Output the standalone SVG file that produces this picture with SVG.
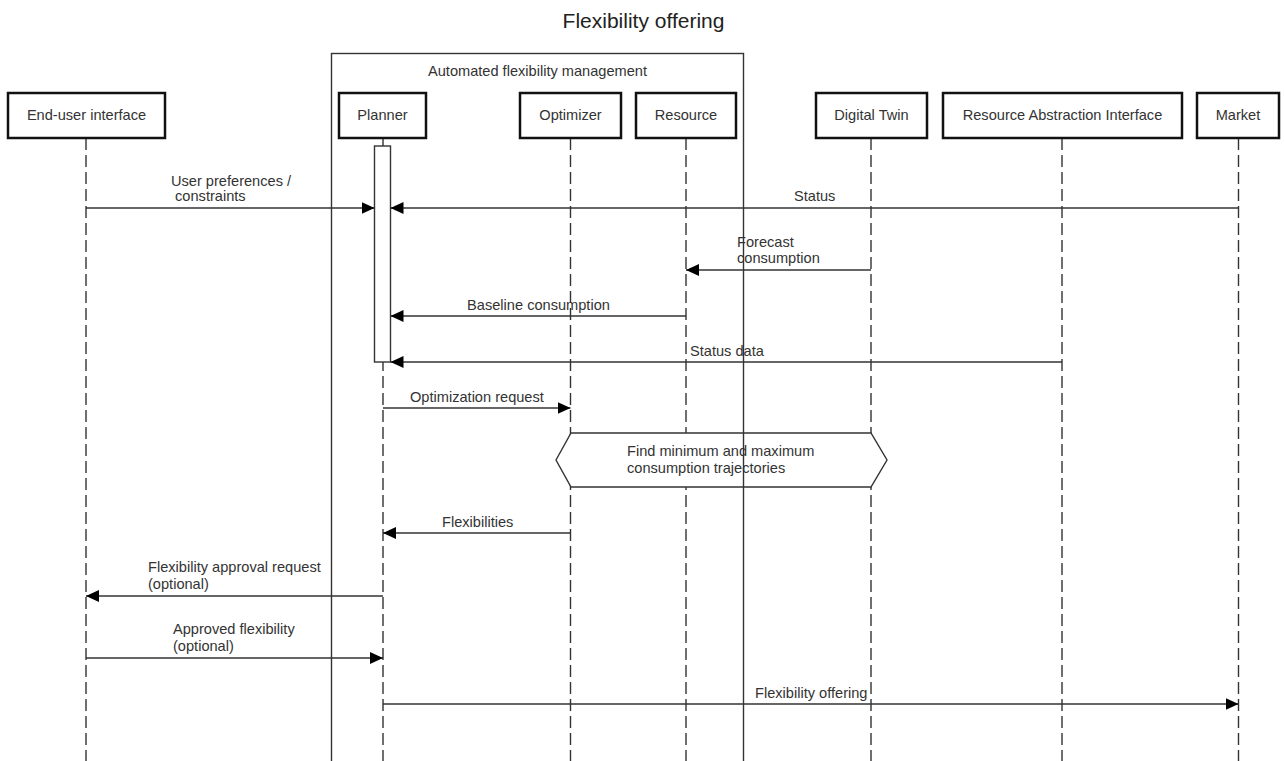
<svg xmlns="http://www.w3.org/2000/svg" width="1284" height="761" viewBox="0 0 1284 761">
  <style>
    text { font-family: "Liberation Sans", Arial, sans-serif; font-size: 14.6px; fill: #333; }
    .title { font-size: 21px; fill: #222; }
    .box { fill: #fff; stroke: #111; stroke-width: 2.5; }
    .life { stroke: #333; stroke-width: 1.4; stroke-dasharray: 12 5; fill: none; }
    .frame { fill: none; stroke: #333; stroke-width: 1.4; }
    .msg { stroke: #333; stroke-width: 1.4; fill: none; marker-end: url(#arrow); }
    .shape { fill: #fff; stroke: #333; stroke-width: 1.4; }
    .mid { text-anchor: middle; }
  </style>
  <defs>
    <marker id="arrow" markerUnits="userSpaceOnUse" markerWidth="14" markerHeight="14" refX="13" refY="6" orient="auto">
      <path d="M0,0 L13,6 L0,12 Z" fill="#000"/>
    </marker>
  </defs>

  <rect width="1284" height="761" fill="#fff"/>

  <text class="title mid" x="643.5" y="28">Flexibility offering</text>

  <!-- lifelines -->
  <g id="lifelines">
    <line class="life" x1="86" y1="138" x2="86" y2="761"/>
    <line class="life" x1="383" y1="138" x2="383" y2="761"/>
    <line class="life" x1="570.5" y1="138" x2="570.5" y2="761"/>
    <line class="life" x1="686" y1="138" x2="686" y2="761"/>
    <line class="life" x1="871" y1="138" x2="871" y2="761"/>
    <line class="life" x1="1062" y1="138" x2="1062" y2="761"/>
    <line class="life" x1="1238.5" y1="138" x2="1238.5" y2="761"/>
  </g>

  <!-- participants -->
  <g id="end-user-interface">
    <rect class="box" x="8" y="93" width="157" height="45"/>
    <text class="mid" x="86.5" y="120">End-user interface</text>
  </g>
  <g id="planner">
    <rect class="box" x="339" y="93" width="87" height="45"/>
    <text class="mid" x="382.5" y="120">Planner</text>
  </g>
  <g id="optimizer">
    <rect class="box" x="520" y="93" width="101" height="45"/>
    <text class="mid" x="570.5" y="120">Optimizer</text>
  </g>
  <g id="resource">
    <rect class="box" x="636" y="93" width="100" height="45"/>
    <text class="mid" x="686" y="120">Resource</text>
  </g>
  <g id="digital-twin">
    <rect class="box" x="816" y="93" width="111" height="45"/>
    <text class="mid" x="871.5" y="120">Digital Twin</text>
  </g>
  <g id="resource-abstraction-interface">
    <rect class="box" x="943" y="93" width="239" height="45"/>
    <text class="mid" x="1062.5" y="120">Resource Abstraction Interface</text>
  </g>
  <g id="market">
    <rect class="box" x="1197" y="93" width="82" height="45"/>
    <text class="mid" x="1238" y="120">Market</text>
  </g>

  <!-- planner activation -->
  <g id="planner-activation">
    <rect class="shape" x="374.5" y="146" width="16" height="216"/>
  </g>

  <!-- optimisation step -->
  <g id="find-trajectories">
    <polygon class="shape" points="556,460 571,433 871,433 887,460 871,487 571,487"/>
    <text x="627" y="456">Find minimum and maximum</text>
    <text x="627" y="473">consumption trajectories</text>
  </g>

  <!-- messages -->
  <g id="connectors">
    <line class="msg" x1="86" y1="208" x2="374.5" y2="208"/>
    <text x="171" y="186">User preferences /</text>
    <text x="171" y="201" xml:space="preserve"> constraints</text>

    <line class="msg" x1="1238.5" y1="208" x2="390.5" y2="208"/>
    <text x="794" y="201">Status</text>

    <line class="msg" x1="871" y1="270" x2="686" y2="270"/>
    <text x="737" y="247">Forecast</text>
    <text x="737" y="263">consumption</text>

    <line class="msg" x1="686" y1="316" x2="390.5" y2="316"/>
    <text class="mid" x="538.5" y="310">Baseline consumption</text>

    <line class="msg" x1="1062" y1="362" x2="390.5" y2="362"/>
    <text x="690" y="356">Status data</text>

    <line class="msg" x1="383" y1="408" x2="570.5" y2="408"/>
    <text x="410" y="402">Optimization request</text>

    <line class="msg" x1="570.5" y1="533" x2="383" y2="533"/>
    <text x="442" y="527">Flexibilities</text>

    <line class="msg" x1="383" y1="596" x2="86" y2="596"/>
    <text x="148" y="572">Flexibility approval request</text>
    <text x="148" y="589">(optional)</text>

    <line class="msg" x1="86" y1="658" x2="383" y2="658"/>
    <text x="173" y="634">Approved flexibility</text>
    <text x="173" y="651">(optional)</text>

    <line class="msg" x1="383" y1="704" x2="1238.5" y2="704"/>
    <text x="755" y="698">Flexibility offering</text>
  </g>

  <!-- enclosing frame -->
  <g id="automated-flexibility-management">
    <rect class="frame" x="331.5" y="53.5" width="412" height="720"/>
    <text class="mid" x="537.5" y="76">Automated flexibility management</text>
  </g>
</svg>
